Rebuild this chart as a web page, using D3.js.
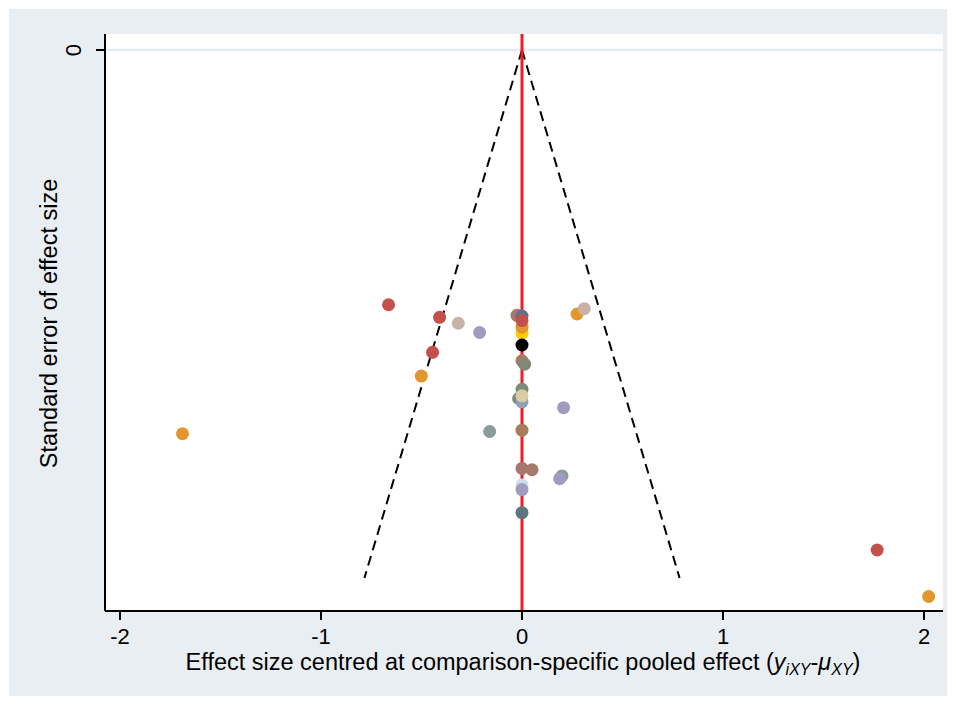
<!DOCTYPE html>
<html>
<head>
<meta charset="utf-8">
<script src="https://cdn.jsdelivr.net/npm/d3@7"></script>
<style>
  body { margin: 0; background: #fff; }
  svg text { font-family: "Liberation Sans", Arial, sans-serif; fill: #000; }
</style>
</head>
<body>
<div id="chart"></div>
<script>
// Data: effect centred at comparison pooled effect, and its standard error
const effect = [
  -0.664, -0.410, -0.317, -0.211, -0.445, -0.501,
  0.000, 0.000, -0.025, 0.000, 0.000, 0.000,
  0.000, 0.013, 0.274, 0.310,
  0.000, -0.017, 0.000, 0.000, 0.207,
  -0.161, 0.000, 0.000, 0.050,
  0.199, 0.187, 0.000, 0.000, 0.000,
  -1.689, 1.767, 2.023
];
const stdErr = [
  0.193, 0.2025, 0.207, 0.214, 0.229, 0.247,
  0.2146, 0.210, 0.201, 0.2015, 0.205, 0.2235,
  0.2354, 0.238, 0.200, 0.196,
  0.257, 0.264, 0.2665, 0.262, 0.271,
  0.289, 0.288, 0.317, 0.318,
  0.3227, 0.3248, 0.3295, 0.333, 0.3505,
  0.2907, 0.3788, 0.414
];
const pointColor = [
  "#c4504c", "#c4504c", "#c8b2a6", "#a09cc0", "#c4504c", "#e3962e",
  "#ffcc00", "#e3962e", "#a8786c", "#5e7290", "#c4504c", "#000000",
  "#a87c5c", "#7e8a76", "#e3962e", "#c8b2a6",
  "#7e8a76", "#7e8a76", "#90a0b6", "#d8cca2", "#a09cc0",
  "#8a9c9c", "#a87c5c", "#a8786c", "#a8786c",
  "#8a9c9c", "#a09cc0", "#d0dce8", "#a09cc0", "#5e7680",
  "#e3962e", "#c4504c", "#e3962e"
];
const xTicks = [-2, -1, 0, 1, 2];
const yTicks = [0];
const seMax = 0.4;       // funnel depth
const zCrit = 1.96;

const W = 956, H = 705;
const frame = {left: 105, right: 943, top: 34, bottom: 611};

const x = d3.scaleLinear().domain([-2, 2]).range([120, 924]);
const y = d3.scaleLinear().domain([0, seMax]).range([50, 578]);

const svg = d3.select("#chart").append("svg")
    .attr("width", W)
    .attr("height", H);

// Graph region background
svg.append("rect")
    .attr("x", 9).attr("y", 9)
    .attr("width", W - 18).attr("height", H - 18)
    .attr("fill", "#e9eef3");

// Plot region
svg.append("rect")
    .attr("x", frame.left).attr("y", frame.top)
    .attr("width", frame.right - frame.left)
    .attr("height", frame.bottom - frame.top)
    .attr("fill", "#fff");

// Gridline at the y tick
svg.selectAll(".grid")
    .data(yTicks)
    .enter().append("line")
    .attr("class", "grid")
    .attr("x1", frame.left).attr("x2", frame.right)
    .attr("y1", d => y(d)).attr("y2", d => y(d))
    .attr("stroke", "#e6ecf2")
    .attr("stroke-width", 2.5);

// Funnel lines
const funnel = [-1, 1].map(s => [[0, 0], [s * zCrit * seMax, seMax]]);
const line = d3.line().x(d => x(d[0])).y(d => y(d[1]));
svg.selectAll(".funnel")
    .data(funnel)
    .enter().append("path")
    .attr("class", "funnel")
    .attr("d", line)
    .attr("fill", "none")
    .attr("stroke", "#000")
    .attr("stroke-width", 2)
    .attr("stroke-dasharray", "10,6");

// Zero line
svg.append("line")
    .attr("x1", x(0)).attr("x2", x(0))
    .attr("y1", frame.top).attr("y2", frame.bottom)
    .attr("stroke", "#ee1d25")
    .attr("stroke-width", 3);

// Points
svg.selectAll(".pt")
    .data(effect.map((e, i) => ({e: e, se: stdErr[i], c: pointColor[i]})))
    .enter().append("circle")
    .attr("class", "pt")
    .attr("cx", d => x(d.e))
    .attr("cy", d => y(d.se))
    .attr("r", 6.5)
    .attr("fill", d => d.c);

// X axis
svg.append("line")
    .attr("x1", frame.left).attr("x2", frame.right)
    .attr("y1", frame.bottom).attr("y2", frame.bottom)
    .attr("stroke", "#000").attr("stroke-width", 2);

const xt = svg.selectAll(".xtick")
    .data(xTicks)
    .enter().append("g")
    .attr("class", "xtick")
    .attr("transform", d => `translate(${x(d)},${frame.bottom})`);
xt.append("line")
    .attr("y1", 0).attr("y2", 9)
    .attr("stroke", "#000").attr("stroke-width", 2);
xt.append("text")
    .attr("y", 33)
    .attr("text-anchor", "middle")
    .style("font-size", "22px")
    .text(d => d);

// Y axis
svg.append("line")
    .attr("x1", frame.left).attr("x2", frame.left)
    .attr("y1", frame.top).attr("y2", frame.bottom)
    .attr("stroke", "#000").attr("stroke-width", 2);

const yt = svg.selectAll(".ytick")
    .data(yTicks)
    .enter().append("g")
    .attr("class", "ytick")
    .attr("transform", d => `translate(${frame.left},${y(d)})`);
yt.append("line")
    .attr("x1", -9).attr("x2", 0)
    .attr("stroke", "#000").attr("stroke-width", 2);
yt.append("text")
    .attr("transform", "translate(-24,0) rotate(-90)")
    .attr("text-anchor", "middle")
    .style("font-size", "22px")
    .text(d => d);

// Axis titles
svg.append("text")
    .attr("transform", `translate(57,${(frame.top + frame.bottom) / 2 + 1}) rotate(-90)`)
    .attr("text-anchor", "middle")
    .style("font-size", "23.5px")
    .text("Standard error of effect size");

const xTitle = svg.append("text")
    .attr("x", (frame.left + frame.right) / 2 - 1)
    .attr("y", 670)
    .attr("text-anchor", "middle")
    .style("font-size", "23.5px");
xTitle.append("tspan").text("Effect size centred at comparison-specific pooled effect (");
xTitle.append("tspan").style("font-style", "italic").text("y");
xTitle.append("tspan").style("font-style", "italic").style("font-size", "16px")
    .attr("dy", 5).text("iXY");
xTitle.append("tspan").attr("dy", -5).text("-");
xTitle.append("tspan").style("font-style", "italic").text("μ");
xTitle.append("tspan").style("font-style", "italic").style("font-size", "16px")
    .attr("dy", 5).text("XY");
xTitle.append("tspan").attr("dy", -5).text(")");
</script>
</body>
</html>
